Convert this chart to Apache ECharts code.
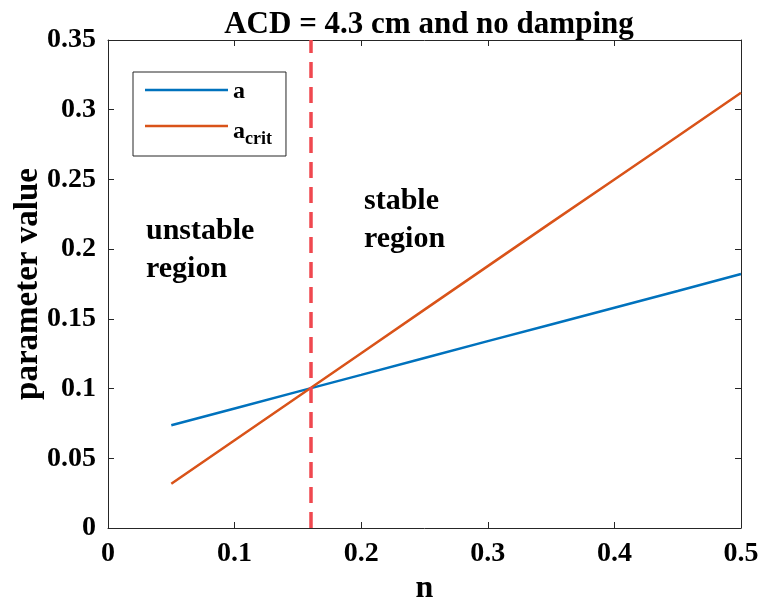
<!DOCTYPE html>
<html><head><meta charset="utf-8">
<script src="https://cdn.jsdelivr.net/npm/echarts@6/dist/echarts.min.js"></script>
<style>html,body{margin:0;padding:0;background:#fff}#c{width:760px;height:606px}</style>
</head><body><div id="c"></div>
<script>
const nValues = [0.05, 0.10, 0.15, 0.20, 0.25, 0.30, 0.35, 0.40, 0.45, 0.50];
const aValues = [0.0737, 0.0857, 0.0978, 0.1098, 0.1219, 0.1340, 0.1460, 0.1580, 0.1700, 0.1822];
const aCritValues = [0.0318, 0.0630, 0.0942, 0.1254, 0.1566, 0.1878, 0.2190, 0.2500, 0.2810, 0.3122];
const boundaryN = 0.16;
const xTicks = [0, 0.1, 0.2, 0.3, 0.4, 0.5];
const yTicks = [0, 0.05, 0.1, 0.15, 0.2, 0.25, 0.3, 0.35];
const titleText = 'ACD = 4.3 cm and no damping';
const xName = 'n';
const yName = 'parameter value';

const F = 'Liberation Serif';
const axisCol = '#262626';
const chart = echarts.init(document.getElementById('c'));
function baseAxis() {
  return {
    axisLine: {show: true, onZero: false, lineStyle: {color: axisCol, width: 1}},
    axisTick: {show: true, inside: true, length: 6, lineStyle: {color: axisCol}},
    splitLine: {show: false}
  };
}
chart.setOption({
  animation: false,
  backgroundColor: '#fff',
  title: {text: titleText, left: 424, textAlign: 'center', top: 4,
    textStyle: {fontFamily: F, fontWeight: 'bold', fontSize: 31, color: '#000'}},
  grid: {left: 108, right: 19, top: 40, bottom: 78, containLabel: false, outerBoundsMode: 'none'},
  legend: {
    orient: 'vertical', left: 133, top: 72, width: 160,
    padding: [8, 14, 8, 12], borderColor: '#262626', borderWidth: 1,
    icon: 'rect', itemWidth: 83, itemHeight: 2.5, itemGap: 16,
    data: ['a', 'acrit'],
    formatter: function (name) { return name === 'acrit' ? '{b|a}{s|crit}' : '{b|a}'; },
    textStyle: {
      fontFamily: F, fontWeight: 'bold', fontSize: 24, color: '#000', height: 20,
      rich: {
        b: {fontFamily: F, fontWeight: 'bold', fontSize: 24, color: '#000'},
        s: {fontFamily: F, fontWeight: 'bold', fontSize: 18, color: '#000', padding: [14, 0, 0, 0]}
      }
    }
  },
  xAxis: [
    Object.assign(baseAxis(), {type: 'value', min: 0, max: 0.5, interval: 0.1,
      name: xName, nameLocation: 'middle', nameGap: 45, nameMoveOverlap: false,
      nameTextStyle: {fontFamily: F, fontWeight: 'bold', fontSize: 32, color: '#000'},
      axisLabel: {fontFamily: F, fontWeight: 'bold', fontSize: 28, color: '#000', margin: 12,
        formatter: v => String(+v.toFixed(2))}}),
    Object.assign(baseAxis(), {type: 'value', position: 'top', min: 0, max: 0.5, interval: 0.1,
      axisLabel: {show: false}})
  ],
  yAxis: [
    Object.assign(baseAxis(), {type: 'value', min: 0, max: 0.35, interval: 0.05,
      name: yName, nameLocation: 'middle', nameGap: 63, nameMoveOverlap: false,
      nameTextStyle: {fontFamily: F, fontWeight: 'bold', fontSize: 33, color: '#000'},
      axisLabel: {fontFamily: F, fontWeight: 'bold', fontSize: 28, color: '#000', margin: 12,
        formatter: v => String(+v.toFixed(2))}}),
    Object.assign(baseAxis(), {type: 'value', position: 'right', min: 0, max: 0.35, interval: 0.05,
      axisLabel: {show: false}})
  ],
  series: [
    {name: 'a', type: 'line', showSymbol: false, symbol: 'none',
      data: nValues.map((n, i) => [n, aValues[i]]),
      lineStyle: {color: '#0072BD', width: 2.5}, itemStyle: {color: '#0072BD'},
      markLine: {silent: true, symbol: 'none', label: {show: false},
        lineStyle: {color: '#F0484F', width: 3.5, type: [16, 9]},
        data: [{xAxis: boundaryN}]}},
    {name: 'acrit', type: 'line', showSymbol: false, symbol: 'none',
      data: nValues.map((n, i) => [n, aCritValues[i]]),
      lineStyle: {color: '#D95319', width: 2.5}, itemStyle: {color: '#D95319'}}
  ],
  graphic: [
    {type: 'text', left: 146, top: 212, style: {text: 'unstable\nregion', font: 'bold 30px "Liberation Serif"', lineHeight: 38, fill: '#000'}},
    {type: 'text', left: 364, top: 182, style: {text: 'stable\nregion', font: 'bold 30px "Liberation Serif"', lineHeight: 38, fill: '#000'}}
  ]
});
</script></body></html>
